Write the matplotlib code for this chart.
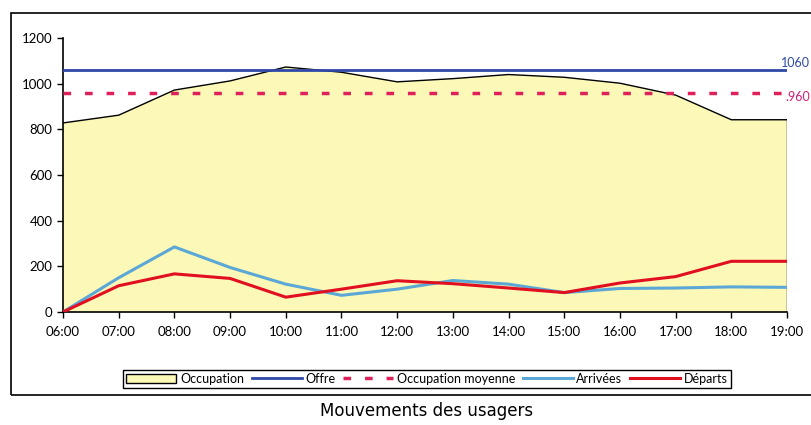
import matplotlib
matplotlib.use("Agg")
import matplotlib.pyplot as plt
from matplotlib.patches import Rectangle, Patch
from matplotlib.lines import Line2D
import numpy as np

hours = ["06:00", "07:00", "08:00", "09:00", "10:00", "11:00", "12:00",
         "13:00", "14:00", "15:00", "16:00", "17:00", "18:00", "19:00"]
occupation = [828, 862, 972, 1012, 1073, 1050, 1008, 1022, 1040, 1028, 1002, 950, 842, 842]
arrivees = [0, 150, 285, 195, 122, 73, 100, 138, 122, 85, 103, 105, 110, 108]
departs = [0, 115, 167, 147, 65, 100, 137, 124, 105, 85, 127, 155, 222, 222]
offre = 1060
occ_moy = 960

plt.rcParams['font.family'] = ['Lato', 'DejaVu Sans']

fig = plt.figure(figsize=(8.12, 4.25), dpi=100)
ax = fig.add_axes([63/812, 1-312/425, (787-63)/812, (312-38)/425])

x = np.arange(len(hours))
ax.fill_between(x, 0, occupation, facecolor="#FBF8B8", edgecolor="none", zorder=1)
ax.plot(x, occupation, color="black", lw=1.0, zorder=2)
ax.plot([x[-1], x[-1]], [0, occupation[-1]], color="black", lw=1.0, zorder=2)
ax.plot([x[0], x[-1]], [offre, offre], color="#2E48A8", lw=2.0, zorder=3)
ax.plot([x[0], x[-1]], [occ_moy, occ_moy], color="#E0205A", lw=2.5,
        dashes=(2.2, 4), zorder=3)
ax.plot(x, arrivees, color="#5BA8D6", lw=2.2, zorder=4)
ax.plot(x, departs, color="#E01020", lw=2.2, zorder=5)

fig.text(810/812, 1-63/425, str(offre), color="#2E48A8", fontsize=9,
         va="center", ha="right")
fig.text(810/812, 1-97/425, "." + str(occ_moy), color="#D0207A", fontsize=9,
         va="center", ha="right")

ax.set_xlim(0, len(hours) - 1)
ax.set_ylim(0, 1200)
ax.set_yticks(range(0, 1201, 200))
ax.set_xticks(x)
ax.set_xticklabels(hours)
ax.tick_params(axis="both", labelsize=9.5, direction="out", length=4, width=1)
ax.tick_params(axis="x", pad=6)
for s in ["top", "right"]:
    ax.spines[s].set_visible(False)
for s in ["left", "bottom"]:
    ax.spines[s].set_linewidth(1.2)
ax.patch.set_alpha(0)

# outer chart frame
fig.patches.append(Rectangle((11/812, 1-395/425), (830-11)/812, (395-13)/425,
                             transform=fig.transFigure, fill=False,
                             edgecolor="black", lw=1.2, clip_on=False))

handles = [
    Patch(facecolor="#FBF8B8", edgecolor="black", lw=1.0),
    Line2D([], [], color="#2E48A8", lw=2.0),
    Line2D([], [], color="#E0205A", lw=2.5, dashes=(2.2, 4)),
    Line2D([], [], color="#5BA8D6", lw=2.2),
    Line2D([], [], color="#E01020", lw=2.2),
]
labels = ["Occupation", "Offre", "Occupation moyenne", "Arrivées", "Départs"]
leg = fig.legend(handles, labels, loc="center", bbox_to_anchor=(427/812, 1-379/425),
                 ncol=5, fontsize=9, frameon=True, fancybox=False, edgecolor="black",
                 framealpha=1, handlelength=4.0, handletextpad=0.3, columnspacing=0.6,
                 borderpad=0.25, handleheight=0.8)
leg.get_frame().set_linewidth(1.0)

fig.text(427/812, 1-411/425, "Mouvements des usagers", ha="center", va="center",
         fontsize=12, family=["Liberation Sans Narrow", "DejaVu Sans"])

fig.savefig("out.png", dpi=100)
